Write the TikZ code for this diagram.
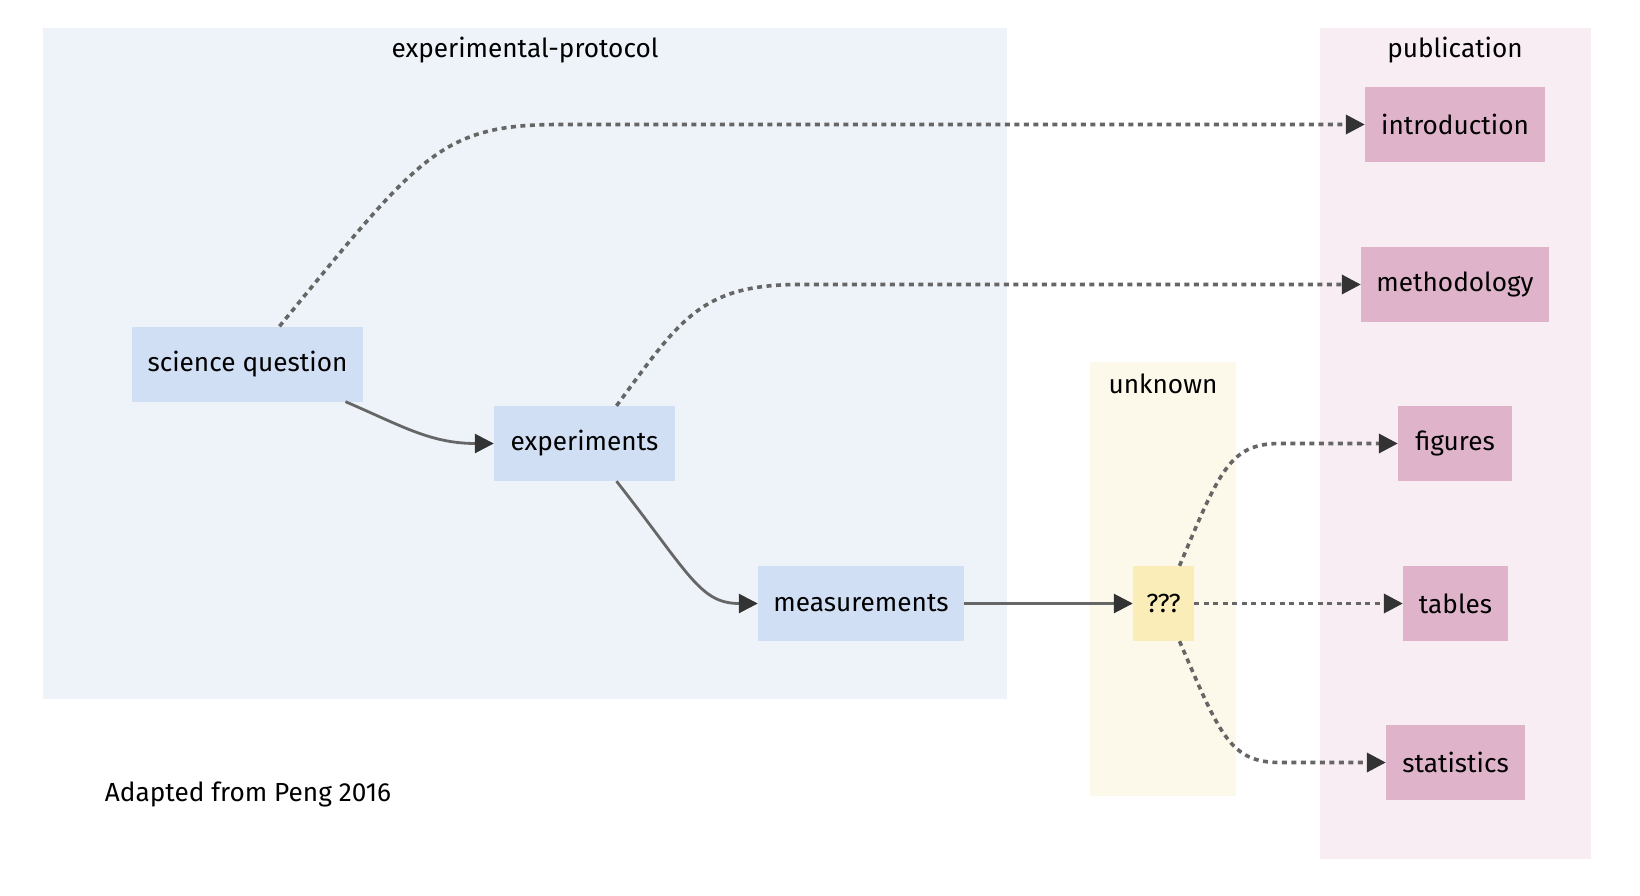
\documentclass[tikz,border=0pt]{standalone}
\usepackage{fontspec}
\setmainfont{Fira Sans}
\usetikzlibrary{arrows.meta,calc}
\definecolor{protobg}{HTML}{EEF3FA}
\definecolor{protonode}{HTML}{D1DFF4}
\definecolor{unkbg}{HTML}{FDF9EA}
\definecolor{unknode}{HTML}{FAEDB8}
\definecolor{pubbg}{HTML}{F8EDF3}
\definecolor{pubnode}{HTML}{DFB4CB}
\definecolor{edge}{HTML}{666666}
\definecolor{tip}{HTML}{333333}
\tikzset{
  box/.style={inner sep=0pt, minimum height=75pt, font=\fontsize{26.2}{29}\selectfont, text=black},
  pbox/.style={box, fill=protonode},
  ubox/.style={box, fill=unknode},
  qbox/.style={box, fill=pubnode},
  clabel/.style={font=\fontsize{26.2}{29}\selectfont, text=black},
  link/.style={draw=edge, line width=2.8pt, -{Triangle[length=19pt,width=19pt,fill=tip,color=tip]}},
  dotlink/.style={link, line width=3.6pt, dash pattern=on 5pt off 4.5pt},
}
\begin{document}
\begin{tikzpicture}[x=1pt,y=-1pt]
\useasboundingbox (0,0) rectangle (1640,896);
% clusters
\fill[protobg] (43,28) rectangle (1007,699);
\fill[unkbg] (1090,362) rectangle (1236,796);
\fill[pubbg] (1320,28) rectangle (1591,859);
\node[clabel] (lproto) at (525,50) {experimental-protocol};
\node[clabel] (lunk) at (1163,384) {unknown};
\node[clabel] (lpub) at (1455,50) {publication};
% nodes
\node[pbox, minimum width=231pt] (sq) at (247.5,364) {science question};
\node[pbox, minimum width=181pt] (exp) at (584.5,443.5) {experiments};
\node[pbox, minimum width=206pt] (meas) at (861,603.5) {measurements};
\node[ubox, minimum width=61pt] (q) at (1163.5,603.5) {???};
\node[qbox, minimum width=180pt] (intro) at (1455,124.5) {introduction};
\node[qbox, minimum width=188pt] (meth) at (1455,284.5) {methodology};
\node[qbox, minimum width=114pt] (fig) at (1455,443.5) {figures};
\node[qbox, minimum width=105pt] (tab) at (1455.5,603.5) {tables};
\node[qbox, minimum width=139pt] (stat) at (1455.5,762.5) {statistics};
\node[clabel] (note) at (248,794) {Adapted from Peng 2016};
% edges
\draw[link] ($(sq.south)+(98,0)$) .. controls (400,425) and (430,443.5) .. (exp.west);
\draw[link] ($(exp.south)+(32,0)$) .. controls (690,575) and (700,603.5) .. (meas.west);
\draw[link] (meas.east) -- (q.west);
\draw[dotlink] ($(sq.north)+(32,0)$) .. controls (420,155) and (440,124.5) .. (560,124.5) -- (intro.west);
\draw[dotlink] ($(exp.north)+(32,0)$) .. controls (680,320) and (700,284.5) .. (800,284.5) -- (meth.west);
\draw[dotlink] ($(q.north)+(16,0)$) .. controls (1220,470) and (1230,443.5) .. (1280,443.5) -- (fig.west);
\draw[dotlink] (q.east) -- (tab.west);
\draw[dotlink] ($(q.south)+(16,0)$) .. controls (1220,735) and (1230,762.5) .. (1280,762.5) -- (stat.west);
\end{tikzpicture}
\end{document}
